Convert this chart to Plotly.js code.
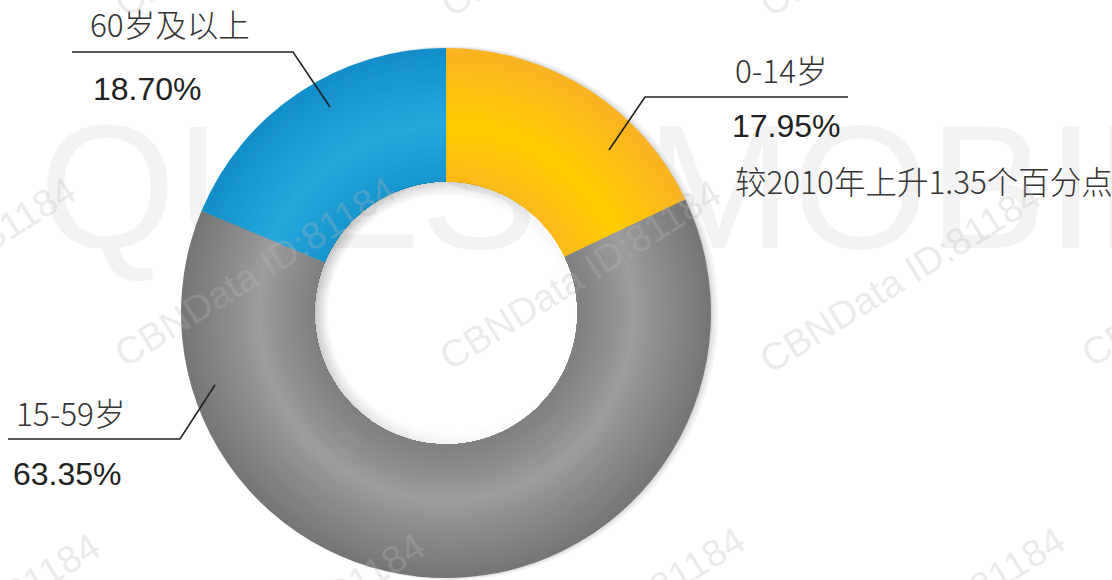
<!DOCTYPE html>
<html>
<head>
<meta charset="utf-8">
<script src="https://cdn.plot.ly/plotly-3.0.1.min.js"></script>
<style>html,body{margin:0;padding:0;background:#fff;}#chart{width:1112px;height:580px;}</style>
</head>
<body>
<div id="chart"></div>
<script>
// ---- data ----
const categories = ["0-14岁", "15-59岁", "60岁及以上"];
const shares = [17.95, 63.35, 18.70];
const shareLabels = ["17.95%", "63.35%", "18.70%"];
const note = "较2010年上升1.35个百分点";

// ---- styling ----
const W = 1112, H = 580;
const CX = 446, CY = 267;          // pie center (px from left, px from bottom)
const R_OUT = 265, R_IN = 131.5;
const darkCols  = [[250,176,38],[114,114,114],[16,140,200]];
const lightCols = [[255,204,0],[156,156,156],[38,168,220]];

function mix(a, b, t) {
  return 'rgb(' + a.map((v, i) => Math.round(v + (b[i] - v) * t)).join(',') + ')';
}
function dom(cx, cy, r) {
  return {x: [(cx - r) / W, (cx + r) / W], y: [Math.max(0, (cy - r) / H), Math.min(1, (cy + r) / H)]};
}
function shadowRing(cx, cy, r, color) {
  return {type: 'pie', values: [1], labels: ['d'], sort: false, hole: (R_IN + 20) / r, domain: dom(cx, cy, r),
    textinfo: 'none', hoverinfo: 'skip', showlegend: false,
    marker: {colors: [color], line: {width: 0}}};
}

const traces = [];
// soft outer shadow (right side)
traces.push(shadowRing(CX + 5, CY, R_OUT + 2, '#f3f3f3'));
traces.push(shadowRing(CX + 3, CY, R_OUT + 1, '#e6e6e6'));
traces.push(shadowRing(CX + 1.5, CY, R_OUT, '#d6d6d6'));

// data donut, drawn as nested rings to mimic the radial shading
const N = 30;
for (let k = 0; k < N; k++) {
  const ro = R_OUT - (R_OUT - R_IN) * k / N;
  const tmid = 1 - (k + 0.5) / N;           // 0 at inner edge, 1 at outer edge
  const light = Math.max(0, 1 - Math.abs(tmid - 0.42) / 0.62);
  traces.push({
    type: 'pie',
    labels: categories,
    values: shares,
    sort: false,
    direction: 'clockwise',
    rotation: 0,
    hole: R_IN / ro,
    domain: dom(CX, CY, ro),
    textinfo: 'none',
    hoverinfo: 'label+percent',
    showlegend: false,
    marker: {colors: darkCols.map((d, i) => mix(d, lightCols[i], light)), line: {width: 0}}
  });
}

// inner shadow inside the hole, strongest toward the upper left
const NS = 72;
const shadowAngles = Array.from({length: NS}, (_, i) => (i + 0.5) * 360 / NS);
const shadowVals = shadowAngles.map(() => 1);
const layers = 6;
for (let j = 0; j < layers; j++) {
  const ro = R_IN - j * 2.2;
  const ri = R_IN - (j + 1) * 2.2;
  const fade = 1 - j / layers;
  traces.push({
    type: 'pie', values: shadowVals, labels: shadowAngles.map(a => 's' + a), sort: false,
    direction: 'clockwise', rotation: 0, hole: ri / ro, domain: dom(CX, CY, ro),
    textinfo: 'none', hoverinfo: 'skip', showlegend: false,
    marker: {line: {width: 0}, colors: shadowAngles.map(a => {
      const f = Math.pow(Math.max(0, 0.5 + 0.5 * Math.cos((a - 295) * Math.PI / 180)), 1.3);
      return 'rgba(0,0,0,' + (0.22 * f * fade).toFixed(3) + ')';
    })}
  });
}

// ---- labels ----
const px = x => x / W, py = y => 1 - y / H;
const catFont = {family: 'Noto Sans CJK SC, sans-serif', size: 31.5, color: '#333', weight: 300};
const pctFont = {family: 'Liberation Sans, Arial, sans-serif', size: 32, color: '#222'};
function ann(text, x, y, font) {
  return {text: text, x: px(x), y: py(y), xref: 'paper', yref: 'paper', xanchor: 'left', yanchor: 'middle', showarrow: false, font: font};
}
const annotations = [
  ann(categories[2], 88, 23, catFont),
  ann(shareLabels[2], 91, 89, pctFont),
  ann(categories[0], 733, 69, catFont),
  ann(shareLabels[0], 730, 126, pctFont),
  ann(note, 733, 180, catFont),
  ann(categories[1], 14, 412, catFont),
  ann(shareLabels[1], 11, 474, pctFont)
];

// faint diagonal watermarks
const wmFont = {family: 'Liberation Sans, sans-serif', size: 38, color: 'rgba(185,185,185,0.3)'};
const wmCenters = [[-65, 272], [255, 272], [580, 275], [900, 278], [1222, 272],
                   [-41, 628], [284, 628], [604, 622], [924, 622],
                   [255, -78], [581, -78], [900, -78]];
wmCenters.forEach(p => {
  annotations.push({text: 'CBNData ID:81184', x: px(p[0]), y: py(p[1]), xref: 'paper', yref: 'paper',
    xanchor: 'center', yanchor: 'middle', showarrow: false, textangle: -32, font: wmFont});
});

function seg(pts) {
  return {type: 'path', xref: 'paper', yref: 'paper',
    path: 'M' + pts.map(p => px(p[0]) + ',' + py(p[1])).join(' L'),
    line: {color: '#222', width: 1.6}};
}
const shapes = [
  // large faint background watermark, beneath the donut
  {type: 'rect', xref: 'paper', yref: 'paper', layer: 'below',
   x0: px(36), x1: px(1500), y0: py(240), y1: py(100),
   line: {width: 0}, fillcolor: 'rgba(0,0,0,0)',
   label: {text: 'QUESTMOBILE', textposition: 'middle left', padding: 0,
           font: {family: 'Liberation Sans, sans-serif', size: 176, color: '#f3f3f3'}}},
  seg([[72, 52], [293, 52], [330, 107]]),
  seg([[848, 97], [645, 97], [609, 150]]),
  seg([[8, 439], [180, 439], [215, 385]])
];

Plotly.newPlot('chart', traces, {
  width: W, height: H,
  margin: {l: 0, r: 0, t: 0, b: 0},
  paper_bgcolor: '#fff',
  showlegend: false,
  annotations: annotations,
  shapes: shapes
}, {displayModeBar: false, staticPlot: true});
</script>
</body>
</html>
